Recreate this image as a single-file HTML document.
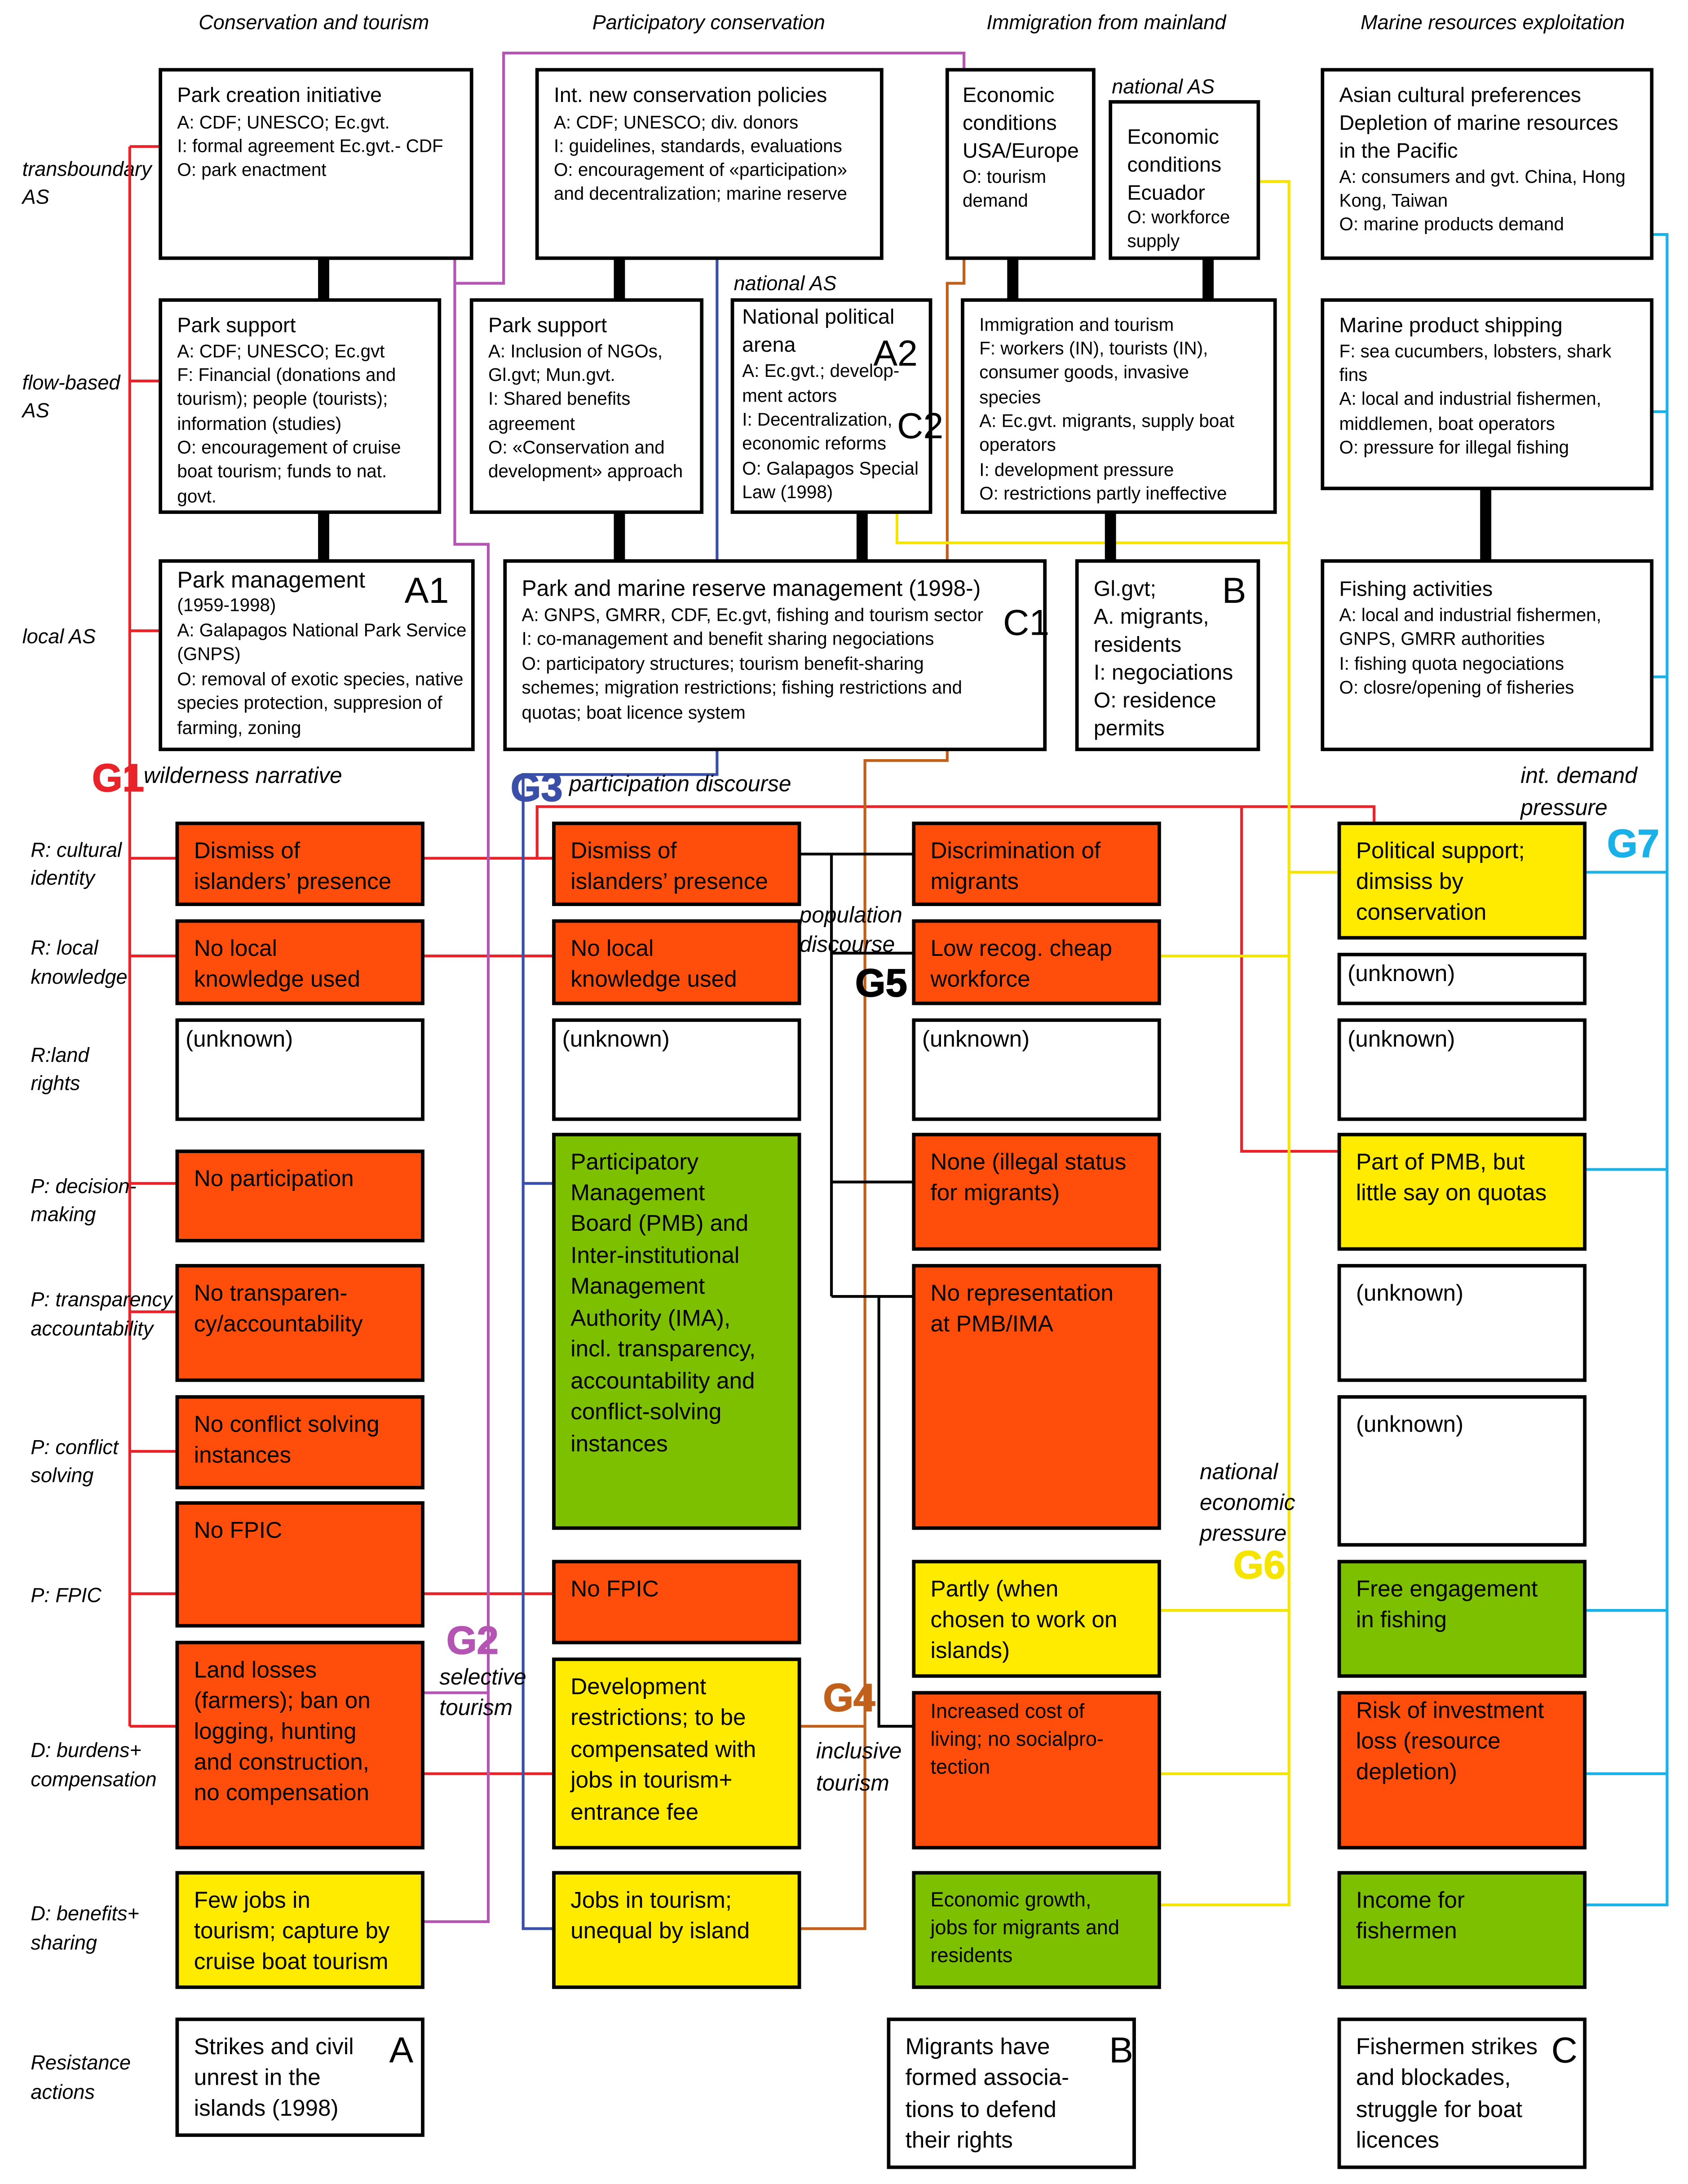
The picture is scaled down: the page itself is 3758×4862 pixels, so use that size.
<!DOCTYPE html>
<html><head><meta charset="utf-8"><style>
html,body{margin:0;padding:0;background:#fff}
svg{display:block}
text{font-family:"Liberation Sans",sans-serif;fill:#000}
.h{font-size:15px}.s{font-size:13px}.g{font-size:16.5px}.i{font-style:italic;font-size:14.5px}
.big{font-size:26px}
.G{font-size:28px;font-weight:bold;stroke-width:0.6}
.b{stroke:#000;stroke-width:2.5}
.o{fill:#ff4e0c}.y{fill:#ffeb00}.gr{fill:#7cc000}.w{fill:#fff}
</style></head><body>
<svg width="3758" height="4862" viewBox="0 0 1210 1565" preserveAspectRatio="none" xmlns="http://www.w3.org/2000/svg">
<rect width="1210" height="1565" fill="#fff"/>
<!-- headers -->
<text class="i" x="225" y="21" text-anchor="middle">Conservation and tourism</text>
<text class="i" x="508" y="21" text-anchor="middle">Participatory conservation</text>
<text class="i" x="793" y="21" text-anchor="middle">Immigration from mainland</text>
<text class="i" x="1070" y="21" text-anchor="middle">Marine resources exploitation</text>
<text class="i" x="16" y="126">transboundary</text><text class="i" x="16" y="146">AS</text>
<text class="i" x="16" y="279">flow-based</text><text class="i" x="16" y="299">AS</text>
<text class="i" x="16" y="461">local AS</text>
<text class="i" x="797" y="67">national AS</text>
<text class="i" x="526" y="208">national AS</text>

<!-- connectors -->
<g fill="none" stroke-width="2">
<g stroke="#e8232a">
<path d="M93,105V1237M93,105H115M93,273H115M93,452H115M93,615H127M93,685H127M93,848H127M93,940H127M93,1040H127M93,1142H127M93,1237H127"/>
<path d="M303,615H397M303,685H397M303,1142H397M303,1271H397M385,615V578H985V590M890,578V825H960"/>
</g>
<path stroke="#b455b4" d="M326,185V390H350V1377H303M326,203H361V38H691V50M303,1213H350"/>
<path stroke="#3a4fa8" d="M514,185V555H375V1382H397M375,848H397"/>
<path stroke="#c0601a" d="M691,185V203H679V545H620V1382H573M573,1237H620"/>
<path stroke="#000" d="M573,612H655M596,612V929M596,683H655M596,847H655M596,929H655M630,929V1237H655"/>
<path stroke="#f5e400" d="M902,130H924V1365H831M643,367V389H924M924,625H960M831,685H924M831,1154H924M831,1271H924"/>
<path stroke="#1ab0e8" d="M1184,168H1195V1365H1136M1184,295H1195M1184,485H1195M1136,625H1195M1136,838H1195M1136,1154H1195M1136,1271H1195"/>
</g>
<!-- thick connectors -->
<g stroke="#000" stroke-width="8">
<path d="M232,185V215M232,367V402M444,185V215M444,367V402M618,367V402M726,185V215M866,185V215M796,367V402M1065,350V402"/>
</g>

<!-- top boxes -->
<g class="b" fill="#fff">
<rect x="115" y="50" width="223" height="135"/>
<rect x="385" y="50" width="247" height="135"/>
<rect x="679" y="50" width="105" height="135"/>
<rect x="796" y="73" width="106" height="112"/>
<rect x="948" y="50" width="236" height="135"/>
<rect x="115" y="215" width="200" height="152"/>
<rect x="338" y="215" width="165" height="152"/>
<rect x="525" y="215" width="142" height="152"/>
<rect x="690" y="215" width="224" height="152"/>
<rect x="948" y="215" width="236" height="135"/>
<rect x="115" y="402" width="224" height="135"/>
<rect x="362" y="402" width="387" height="135"/>
<rect x="772" y="402" width="130" height="135"/>
<rect x="948" y="402" width="236" height="135"/>
</g>
<text class="h" x="127" y="73">Park creation initiative</text>
<text class="s"><tspan x="127" y="92">A: CDF; UNESCO; Ec.gvt.</tspan><tspan x="127" y="109">I: formal agreement Ec.gvt.- CDF</tspan><tspan x="127" y="126">O: park enactment</tspan></text>
<text class="h" x="397" y="73">Int. new conservation policies</text>
<text class="s"><tspan x="397" y="92">A: CDF; UNESCO; div. donors</tspan><tspan x="397" y="109">I: guidelines, standards, evaluations</tspan><tspan x="397" y="126">O: encouragement of «participation»</tspan><tspan x="397" y="143">and decentralization; marine reserve</tspan></text>
<text class="h"><tspan x="690" y="73">Economic</tspan><tspan x="690" y="93">conditions</tspan><tspan x="690" y="113">USA/Europe</tspan></text>
<text class="s"><tspan x="690" y="131">O: tourism</tspan><tspan x="690" y="148">demand</tspan></text>
<text class="h"><tspan x="808" y="103">Economic</tspan><tspan x="808" y="123">conditions</tspan><tspan x="808" y="143">Ecuador</tspan></text>
<text class="s"><tspan x="808" y="160">O: workforce</tspan><tspan x="808" y="177">supply</tspan></text>
<text class="h"><tspan x="960" y="73">Asian cultural preferences</tspan><tspan x="960" y="93">Depletion of marine resources</tspan><tspan x="960" y="113">in the Pacific</tspan></text>
<text class="s"><tspan x="960" y="131">A: consumers and gvt. China, Hong</tspan><tspan x="960" y="148">Kong, Taiwan</tspan><tspan x="960" y="165">O: marine products demand</tspan></text>

<text class="h" x="127" y="238">Park support</text>
<text class="s"><tspan x="127" y="256">A: CDF; UNESCO; Ec.gvt</tspan><tspan x="127" y="273">F: Financial (donations and</tspan><tspan x="127" y="290">tourism); people (tourists);</tspan><tspan x="127" y="308">information (studies)</tspan><tspan x="127" y="325">O: encouragement of cruise</tspan><tspan x="127" y="342">boat tourism; funds to nat.</tspan><tspan x="127" y="360">govt.</tspan></text>
<text class="h" x="350" y="238">Park support</text>
<text class="s"><tspan x="350" y="256">A: Inclusion of NGOs,</tspan><tspan x="350" y="273">Gl.gvt; Mun.gvt.</tspan><tspan x="350" y="290">I: Shared benefits</tspan><tspan x="350" y="308">agreement</tspan><tspan x="350" y="325">O: «Conservation and</tspan><tspan x="350" y="342">development» approach</tspan></text>
<text class="h"><tspan x="532" y="232">National political</tspan><tspan x="532" y="252">arena</tspan></text>
<text class="s"><tspan x="532" y="270">A: Ec.gvt.; develop-</tspan><tspan x="532" y="288">ment actors</tspan><tspan x="532" y="305">I: Decentralization,</tspan><tspan x="532" y="322">economic reforms</tspan><tspan x="532" y="340">O: Galapagos Special</tspan><tspan x="532" y="357">Law (1998)</tspan></text>
<text class="big" x="626" y="262">A2</text><text class="big" x="643" y="314">C2</text>
<text class="s"><tspan x="702" y="237">Immigration and tourism</tspan><tspan x="702" y="254">F: workers (IN), tourists (IN),</tspan><tspan x="702" y="271">consumer goods, invasive</tspan><tspan x="702" y="289">species</tspan><tspan x="702" y="306">A: Ec.gvt. migrants, supply boat</tspan><tspan x="702" y="323">operators</tspan><tspan x="702" y="341">I: development pressure</tspan><tspan x="702" y="358">O: restrictions partly ineffective</tspan></text>
<text class="h" x="960" y="238">Marine product shipping</text>
<text class="s"><tspan x="960" y="256">F: sea cucumbers, lobsters, shark</tspan><tspan x="960" y="273">fins</tspan><tspan x="960" y="290">A: local and industrial fishermen,</tspan><tspan x="960" y="308">middlemen, boat operators</tspan><tspan x="960" y="325">O: pressure for illegal fishing</tspan></text>

<text x="127" y="421" style="font-size:16.5px">Park management</text>
<text class="big" x="290" y="432">A1</text>
<text class="s"><tspan x="127" y="438">(1959-1998)</tspan><tspan x="127" y="456">A: Galapagos National Park Service</tspan><tspan x="127" y="473">(GNPS)</tspan><tspan x="127" y="491">O: removal of exotic species, native</tspan><tspan x="127" y="508">species protection, suppresion of</tspan><tspan x="127" y="526">farming, zoning</tspan></text>
<text x="374" y="427" style="font-size:16px">Park and marine reserve management (1998-)</text>
<text class="big" x="719" y="455">C1</text>
<text class="s"><tspan x="374" y="445">A: GNPS, GMRR, CDF, Ec.gvt, fishing and tourism sector</tspan><tspan x="374" y="462">I: co-management and benefit sharing negociations</tspan><tspan x="374" y="480">O: participatory structures; tourism benefit-sharing</tspan><tspan x="374" y="497">schemes; migration restrictions; fishing restrictions and</tspan><tspan x="374" y="515">quotas; boat licence system</tspan></text>
<text class="h" style="font-size:15.5px"><tspan x="784" y="427">Gl.gvt;</tspan><tspan x="784" y="447">A. migrants,</tspan><tspan x="784" y="467">residents</tspan><tspan x="784" y="487">I: negociations</tspan><tspan x="784" y="507">O: residence</tspan><tspan x="784" y="527">permits</tspan></text>
<text class="big" x="876" y="432">B</text>
<text class="h" x="960" y="427">Fishing activities</text>
<text class="s"><tspan x="960" y="445">A: local and industrial fishermen,</tspan><tspan x="960" y="462">GNPS, GMRR authorities</tspan><tspan x="960" y="480">I: fishing quota negociations</tspan><tspan x="960" y="497">O: closre/opening of fisheries</tspan></text>

<!-- labels -->
<text class="G" x="66" y="567" fill="#e8232a" stroke="#e8232a" style="fill:#e8232a">G1</text>
<text class="i" x="103" y="561" style="font-size:16px">wilderness narrative</text>
<text class="G" x="366" y="574" style="fill:#3a4fa8" stroke="#3a4fa8">G3</text>
<text class="i" x="408" y="567" style="font-size:16px">participation discourse</text>
<text class="i" style="font-size:16px"><tspan x="1090" y="561">int. demand</tspan><tspan x="1090" y="584">pressure</tspan></text>
<text class="G" x="1152" y="614" style="fill:#1ab0e8" stroke="#1ab0e8">G7</text>
<text class="i" style="font-size:16px"><tspan x="573" y="661">population</tspan><tspan x="573" y="682">discourse</tspan></text>
<text class="G" x="613" y="714" style="fill:#000" stroke="#000">G5</text>
<text class="i" style="font-size:16px"><tspan x="860" y="1060">national</tspan><tspan x="860" y="1082">economic</tspan><tspan x="860" y="1104">pressure</tspan></text>
<text class="G" x="884" y="1131" style="fill:#f5e400" stroke="#f5e400">G6</text>
<text class="G" x="320" y="1185" style="fill:#b455b4" stroke="#b455b4">G2</text>
<text class="i" style="font-size:16px"><tspan x="315" y="1207">selective</tspan><tspan x="315" y="1229">tourism</tspan></text>
<text class="G" x="590" y="1226" style="fill:#c0601a" stroke="#c0601a">G4</text>
<text class="i" style="font-size:16px"><tspan x="585" y="1260">inclusive</tspan><tspan x="585" y="1283">tourism</tspan></text>

<!-- row labels -->
<g class="i">
<text><tspan x="22" y="614">R: cultural</tspan><tspan x="22" y="634">identity</tspan></text>
<text><tspan x="22" y="684">R: local</tspan><tspan x="22" y="705">knowledge</tspan></text>
<text><tspan x="22" y="761">R:land</tspan><tspan x="22" y="781">rights</tspan></text>
<text><tspan x="22" y="855">P: decision-</tspan><tspan x="22" y="875">making</tspan></text>
<text><tspan x="22" y="936">P:  transparency</tspan><tspan x="22" y="957">accountability</tspan></text>
<text><tspan x="22" y="1042">P:  conflict</tspan><tspan x="22" y="1062">solving</tspan></text>
<text><tspan x="22" y="1148">P:  FPIC</tspan></text>
<text><tspan x="22" y="1259">D: burdens+</tspan><tspan x="22" y="1280">compensation</tspan></text>
<text><tspan x="22" y="1376">D: benefits+</tspan><tspan x="22" y="1397">sharing</tspan></text>
<text><tspan x="22" y="1483">Resistance</tspan><tspan x="22" y="1504">actions</tspan></text>
</g>

<!-- grid boxes -->
<g class="b">
<rect class="o" x="127" y="590" width="176" height="58"/>
<rect class="o" x="127" y="660" width="176" height="59"/>
<rect class="w" x="127" y="731" width="176" height="71"/>
<rect class="o" x="127" y="825" width="176" height="64"/>
<rect class="o" x="127" y="907" width="176" height="82"/>
<rect class="o" x="127" y="1001" width="176" height="65"/>
<rect class="o" x="127" y="1077" width="176" height="88"/>
<rect class="o" x="127" y="1177" width="176" height="147"/>
<rect class="y" x="127" y="1342" width="176" height="82"/>
<rect class="w" x="127" y="1447" width="176" height="83"/>

<rect class="o" x="397" y="590" width="176" height="58"/>
<rect class="o" x="397" y="660" width="176" height="59"/>
<rect class="w" x="397" y="731" width="176" height="71"/>
<rect class="gr" x="397" y="813" width="176" height="282"/>
<rect class="o" x="397" y="1119" width="176" height="58"/>
<rect class="y" x="397" y="1189" width="176" height="135"/>
<rect class="y" x="397" y="1342" width="176" height="82"/>

<rect class="o" x="655" y="590" width="176" height="58"/>
<rect class="o" x="655" y="660" width="176" height="59"/>
<rect class="w" x="655" y="731" width="176" height="71"/>
<rect class="o" x="655" y="813" width="176" height="82"/>
<rect class="o" x="655" y="907" width="176" height="188"/>
<rect class="y" x="655" y="1119" width="176" height="82"/>
<rect class="o" x="655" y="1213" width="176" height="111"/>
<rect class="gr" x="655" y="1342" width="176" height="82"/>
<rect class="w" x="637" y="1447" width="176" height="106"/>

<rect class="y" x="960" y="590" width="176" height="82"/>
<rect class="w" x="960" y="684" width="176" height="35"/>
<rect class="w" x="960" y="731" width="176" height="71"/>
<rect class="y" x="960" y="813" width="176" height="82"/>
<rect class="w" x="960" y="907" width="176" height="82"/>
<rect class="w" x="960" y="1001" width="176" height="106"/>
<rect class="gr" x="960" y="1119" width="176" height="82"/>
<rect class="o" x="960" y="1213" width="176" height="111"/>
<rect class="gr" x="960" y="1342" width="176" height="82"/>
<rect class="w" x="960" y="1447" width="176" height="106"/>
</g>
<g class="g">
<text><tspan x="139" y="615">Dismiss of</tspan><tspan x="139" y="637">islanders’ presence</tspan></text>
<text><tspan x="139" y="685">No local</tspan><tspan x="139" y="707">knowledge used</tspan></text>
<text x="133" y="750">(unknown)</text>
<text x="139" y="850">No participation</text>
<text><tspan x="139" y="932">No transparen-</tspan><tspan x="139" y="954">cy/accountability</tspan></text>
<text><tspan x="139" y="1026">No conflict solving</tspan><tspan x="139" y="1048">instances</tspan></text>
<text x="139" y="1102">No FPIC</text>
<text><tspan x="139" y="1202">Land losses</tspan><tspan x="139" y="1224">(farmers); ban on</tspan><tspan x="139" y="1246">logging, hunting</tspan><tspan x="139" y="1268">and construction,</tspan><tspan x="139" y="1290">no compensation</tspan></text>
<text><tspan x="139" y="1367">Few jobs in</tspan><tspan x="139" y="1389">tourism; capture by</tspan><tspan x="139" y="1411">cruise boat tourism</tspan></text>
<text><tspan x="139" y="1472">Strikes and civil</tspan><tspan x="139" y="1494">unrest in the</tspan><tspan x="139" y="1516">islands (1998)</tspan></text>

<text><tspan x="409" y="615">Dismiss of</tspan><tspan x="409" y="637">islanders’ presence</tspan></text>
<text><tspan x="409" y="685">No local</tspan><tspan x="409" y="707">knowledge used</tspan></text>
<text x="403" y="750">(unknown)</text>
<text><tspan x="409" y="838">Participatory</tspan><tspan x="409" y="860">Management</tspan><tspan x="409" y="882">Board (PMB) and</tspan><tspan x="409" y="905">Inter-institutional</tspan><tspan x="409" y="927">Management</tspan><tspan x="409" y="950">Authority (IMA),</tspan><tspan x="409" y="972">incl. transparency,</tspan><tspan x="409" y="995">accountability and</tspan><tspan x="409" y="1017">conflict-solving</tspan><tspan x="409" y="1040">instances</tspan></text>
<text x="409" y="1144">No FPIC</text>
<text><tspan x="409" y="1214">Development</tspan><tspan x="409" y="1236">restrictions; to be</tspan><tspan x="409" y="1259">compensated with</tspan><tspan x="409" y="1281">jobs in tourism+</tspan><tspan x="409" y="1304">entrance fee</tspan></text>
<text><tspan x="409" y="1367">Jobs in tourism;</tspan><tspan x="409" y="1389">unequal by island</tspan></text>

<text><tspan x="667" y="615">Discrimination of</tspan><tspan x="667" y="637">migrants</tspan></text>
<text><tspan x="667" y="685">Low recog. cheap</tspan><tspan x="667" y="707">workforce</tspan></text>
<text x="661" y="750">(unknown)</text>
<text><tspan x="667" y="838">None (illegal status</tspan><tspan x="667" y="860">for migrants)</tspan></text>
<text><tspan x="667" y="932">No representation</tspan><tspan x="667" y="954">at PMB/IMA</tspan></text>
<text><tspan x="667" y="1144">Partly (when</tspan><tspan x="667" y="1166">chosen to work on</tspan><tspan x="667" y="1188">islands)</tspan></text>
<text style="font-size:14.5px"><tspan x="667" y="1231">Increased cost of</tspan><tspan x="667" y="1251">living; no socialpro-</tspan><tspan x="667" y="1271">tection</tspan></text>
<text style="font-size:14.5px"><tspan x="667" y="1366">Economic growth,</tspan><tspan x="667" y="1386">jobs for migrants and</tspan><tspan x="667" y="1406">residents</tspan></text>
<text><tspan x="649" y="1472">Migrants have</tspan><tspan x="649" y="1494">formed associa-</tspan><tspan x="649" y="1517">tions to defend</tspan><tspan x="649" y="1539">their rights</tspan></text>

<text><tspan x="972" y="615">Political support;</tspan><tspan x="972" y="637">dimsiss by</tspan><tspan x="972" y="659">conservation</tspan></text>
<text x="966" y="703">(unknown)</text>
<text x="966" y="750">(unknown)</text>
<text><tspan x="972" y="838">Part of PMB, but</tspan><tspan x="972" y="860">little say on quotas</tspan></text>
<text x="972" y="932">(unknown)</text>
<text x="972" y="1026">(unknown)</text>
<text><tspan x="972" y="1144">Free engagement</tspan><tspan x="972" y="1166">in fishing</tspan></text>
<text><tspan x="972" y="1231">Risk of investment</tspan><tspan x="972" y="1253">loss (resource</tspan><tspan x="972" y="1275">depletion)</tspan></text>
<text><tspan x="972" y="1367">Income for</tspan><tspan x="972" y="1389">fishermen</tspan></text>
<text><tspan x="972" y="1472">Fishermen strikes</tspan><tspan x="972" y="1494">and blockades,</tspan><tspan x="972" y="1517">struggle for boat</tspan><tspan x="972" y="1539">licences</tspan></text>
</g>
<text class="big" x="279" y="1478">A</text>
<text class="big" x="795" y="1478">B</text>
<text class="big" x="1112" y="1478">C</text>
</svg>
</body></html>
